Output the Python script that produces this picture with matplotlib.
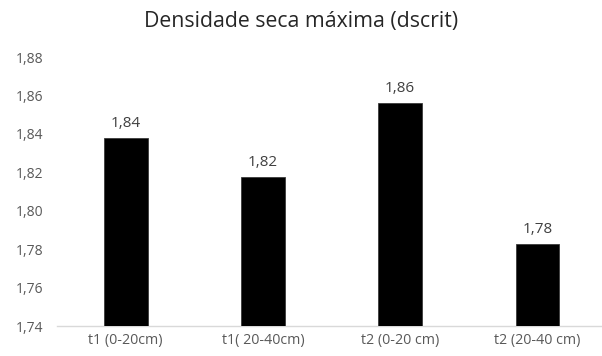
import matplotlib
matplotlib.use("Agg")
import matplotlib.pyplot as plt

# densidade seca máxima por tratamento e profundidade
categorias = ["t1 (0-20cm)", "t1( 20-40cm)", "t2 (0-20 cm)", "t2 (20-40 cm)"]
densidade = [1.838, 1.8175, 1.856, 1.7825]
y_ticks = [1.74, 1.76, 1.78, 1.80, 1.82, 1.84, 1.86, 1.88]

plt.rcParams['font.family'] = ['Open Sans', 'DejaVu Sans']

fig = plt.figure(figsize=(6.02, 3.56), dpi=100)
ax = fig.add_axes([57 / 602, 1 - 326 / 356, (602 - 57) / 602, (326 - 57) / 356])

x = range(len(categorias))
bars = ax.bar(x, densidade, width=0.32, color="black", edgecolor="#3a3a3a",
              linewidth=0.6, zorder=3)

for rect, v in zip(bars, densidade):
    ax.annotate(f"{v:.2f}".replace(".", ","),
                xy=(rect.get_x() + rect.get_width() / 2, rect.get_height()),
                xytext=(0, 8), textcoords="offset points",
                ha="center", va="baseline", fontsize=11, color="#404040")

ax.set_ylim(1.74, 1.88)
ax.set_xlim(-0.5, 3.47)
ax.set_yticks(y_ticks)
ax.set_yticklabels([f"{t:.2f}".replace(".", ",") for t in y_ticks])
ax.set_xticks(list(x))
ax.set_xticklabels(categorias)

ax.tick_params(axis="y", length=0, pad=10, labelsize=10, labelcolor="#595959")
ax.tick_params(axis="x", length=0, pad=5, labelsize=10.3, labelcolor="#595959")

for side in ["top", "right", "left"]:
    ax.spines[side].set_visible(False)
ax.spines["bottom"].set_color("#d9d9d9")
ax.spines["bottom"].set_linewidth(1)

fig.text(0.5, 1 - 21 / 356, "Densidade seca máxima (dscrit)", ha="center",
         va="center", fontsize=15.3, color="#262626")

fig.savefig("out.png", dpi=100)
